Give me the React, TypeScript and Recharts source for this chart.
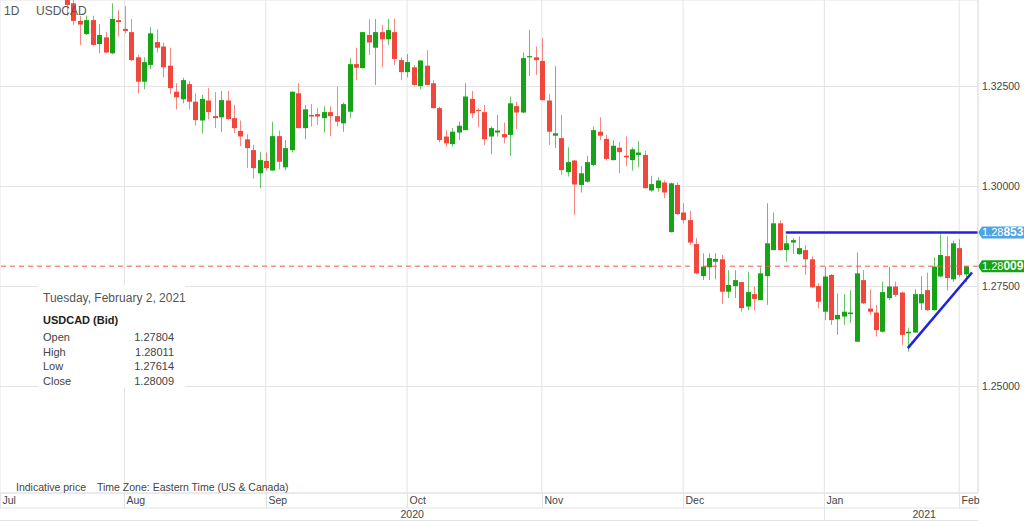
import React from "react";
import {
  ComposedChart,
  Bar,
  XAxis,
  YAxis,
  CartesianGrid,
  ReferenceLine,
} from "recharts";

// daily USDCAD candles, oldest first (last one is Feb 2, 2021)
const opens = [
  1.3472, 1.3458, 1.3414, 1.3381, 1.3416, 1.3356, 1.3373, 1.3333, 1.3416, 1.3394,
  1.3386, 1.3323, 1.3262, 1.3304, 1.3361, 1.335, 1.3302, 1.3237, 1.3218, 1.3256,
  1.3212, 1.3165, 1.3215, 1.3176, 1.3173, 1.3215, 1.3171, 1.3139, 1.3118, 1.3091,
  1.3033, 1.3064, 1.304, 1.3126, 1.3048, 1.3091, 1.3233, 1.3146, 1.3179, 1.3181,
  1.3171, 1.3186, 1.3176, 1.3158, 1.3187, 1.3306, 1.3296, 1.3379, 1.3347, 1.3386,
  1.3368, 1.3386, 1.3316, 1.3286, 1.3298, 1.3251, 1.3302, 1.3258, 1.3196, 1.3125,
  1.3106, 1.3135, 1.3141, 1.3219, 1.3191, 1.3186, 1.3125, 1.3135, 1.3131, 1.3129,
  1.3201, 1.3185, 1.3323, 1.3323, 1.3314, 1.3215, 1.3127, 1.3121, 1.3036, 1.3065,
  1.3004, 1.3012, 1.3054, 1.3137, 1.3119, 1.3066, 1.3097, 1.3077, 1.3066, 1.3079,
  1.3079, 1.299, 1.2996, 1.301, 1.2886, 1.3004, 1.2935, 1.2916, 1.2856, 1.2776,
  1.2798, 1.2812, 1.2818, 1.2737, 1.2751, 1.2761, 1.27, 1.2731, 1.2716, 1.2776,
  1.2841, 1.2908, 1.2841, 1.286, 1.2831, 1.2841, 1.2818, 1.2751, 1.2687, 1.2779,
  1.2668, 1.2675, 1.2681, 1.2612, 1.2766, 1.2695, 1.2685, 1.2637, 1.2721, 1.275,
  1.2735, 1.2633, 1.2635, 1.2708, 1.2741, 1.2691, 1.2775, 1.2826, 1.2768, 1.2846,
  1.27804,
];
const highs = [
  1.348, 1.3468, 1.3426, 1.3427, 1.3427, 1.3406, 1.3386, 1.3458, 1.3441, 1.3451,
  1.3419, 1.3329, 1.3323, 1.3398, 1.3393, 1.336, 1.3347, 1.3258, 1.3272, 1.3264,
  1.3233, 1.3229, 1.3246, 1.3236, 1.3239, 1.3239, 1.3204, 1.3165, 1.3131, 1.3104,
  1.3087, 1.3085, 1.3162, 1.314, 1.3116, 1.3238, 1.3258, 1.3204, 1.3206, 1.3196,
  1.3201, 1.3201, 1.325, 1.321, 1.3321, 1.3347, 1.3387, 1.3418, 1.3419, 1.3404,
  1.3419, 1.3419, 1.3323, 1.3331, 1.3304, 1.3316, 1.3341, 1.3266, 1.32, 1.3141,
  1.3146, 1.3162, 1.3258, 1.3239, 1.3196, 1.3204, 1.3151, 1.3179, 1.316, 1.3225,
  1.3212, 1.3335, 1.3391, 1.335, 1.3371, 1.3231, 1.3301, 1.3179, 1.3098, 1.3066,
  1.3051, 1.3077, 1.315, 1.3173, 1.3129, 1.3116, 1.3111, 1.3125, 1.3098, 1.3114,
  1.3089, 1.3027, 1.3023, 1.3015, 1.301, 1.301, 1.2958, 1.2939, 1.2871, 1.2833,
  1.2833, 1.2833, 1.2829, 1.2791, 1.2791, 1.2762, 1.2787, 1.275, 1.2798, 1.2958,
  1.2935, 1.2915, 1.2879, 1.2871, 1.2875, 1.2854, 1.2825, 1.2758, 1.28, 1.2781,
  1.2733, 1.2731, 1.2741, 1.2835, 1.2791, 1.2743, 1.2704, 1.2762, 1.28, 1.2762,
  1.2737, 1.2646, 1.2743, 1.2776, 1.2785, 1.2823, 1.2881, 1.2875, 1.2865, 1.2868,
  1.28011,
];
const lows = [
  1.3426, 1.3404, 1.3354, 1.3379, 1.3352, 1.3333, 1.3333, 1.3331, 1.3375, 1.3383,
  1.3314, 1.3233, 1.3243, 1.3293, 1.3335, 1.3273, 1.3231, 1.3193, 1.3208, 1.3193,
  1.3152, 1.3133, 1.3168, 1.3146, 1.3136, 1.3166, 1.3133, 1.3101, 1.3046, 1.302,
  1.2996, 1.304, 1.3039, 1.3043, 1.3041, 1.3085, 1.3145, 1.3118, 1.315, 1.3154,
  1.3135, 1.3126, 1.315, 1.3137, 1.3171, 1.3266, 1.3295, 1.3329, 1.3254, 1.3298,
  1.3354, 1.3304, 1.3266, 1.3273, 1.3252, 1.3243, 1.3253, 1.3195, 1.311, 1.31,
  1.31, 1.3116, 1.3141, 1.3171, 1.3148, 1.3104, 1.3081, 1.3125, 1.3108, 1.3076,
  1.3143, 1.3183, 1.3276, 1.3279, 1.3215, 1.3104, 1.3096, 1.3029, 1.3025, 1.2929,
  1.2985, 1.301, 1.3051, 1.3116, 1.3065, 1.3065, 1.3033, 1.3051, 1.304, 1.3048,
  1.2995, 1.2987, 1.2987, 1.2971, 1.2885, 1.2929, 1.2908, 1.2854, 1.2781, 1.2766,
  1.2766, 1.2768, 1.2706, 1.2721, 1.2721, 1.2687, 1.2691, 1.269, 1.2716, 1.2704,
  1.2841, 1.284, 1.2812, 1.2831, 1.2829, 1.2779, 1.2747, 1.2695, 1.2666, 1.2654,
  1.2629, 1.2654, 1.2658, 1.2611, 1.2706, 1.2679, 1.2625, 1.2635, 1.2716, 1.2724,
  1.2604, 1.2587, 1.2634, 1.2691, 1.2689, 1.2689, 1.2773, 1.274, 1.2762, 1.2773,
  1.27614,
];
const closes = [
  1.3454, 1.3414, 1.3405, 1.3416, 1.3354, 1.3379, 1.3335, 1.3419, 1.3411, 1.3389,
  1.3316, 1.3262, 1.3311, 1.3383, 1.3347, 1.3298, 1.3246, 1.3223, 1.3266, 1.3212,
  1.3166, 1.3219, 1.3186, 1.3171, 1.3216, 1.3169, 1.3146, 1.3125, 1.3096, 1.3046,
  1.3066, 1.3046, 1.3126, 1.3062, 1.3096, 1.3237, 1.3146, 1.3193, 1.3175, 1.3175,
  1.3186, 1.3176, 1.3162, 1.3206, 1.3306, 1.3297, 1.3386, 1.336, 1.3386, 1.3368,
  1.3391, 1.3319, 1.3286, 1.3311, 1.3254, 1.3315, 1.3254, 1.3196, 1.3116, 1.3108,
  1.3137, 1.3152, 1.3225, 1.3183, 1.3189, 1.3118, 1.3146, 1.314, 1.3123, 1.3208,
  1.3185, 1.3321, 1.3326, 1.3316, 1.3216, 1.3137, 1.3133, 1.3041, 1.3061, 1.3005,
  1.3033, 1.3061, 1.3141, 1.3127, 1.3069, 1.3102, 1.3086, 1.3073, 1.3093, 1.3085,
  1.2996, 1.3006, 1.3015, 1.2985, 1.3008, 1.2931, 1.2916, 1.286, 1.2783, 1.28,
  1.2821, 1.2819, 1.2737, 1.2754, 1.2766, 1.2696, 1.2736, 1.2719, 1.2783, 1.2858,
  1.2908, 1.2841, 1.2858, 1.2866, 1.2846, 1.2818, 1.2748, 1.2712, 1.2775, 1.2666,
  1.2679, 1.2687, 1.2685, 1.2783, 1.2708, 1.2687, 1.2641, 1.2736, 1.275, 1.2729,
  1.2629, 1.2637, 1.2731, 1.2731, 1.2691, 1.28, 1.2829, 1.2771, 1.2858, 1.2779,
  1.28009,
];

// month starts, as candle indexes (first one is the left edge of the view)
const monthLabels = ["Jul", "Aug", "Sep", "Oct", "Nov", "Dec", "Jan", "Feb"];
const monthTicks = [-10.39, 9, 31, 53, 74, 96, 118, 139];
const yearLabels = ["2020", "2021"];
const priceTicks = [1.25, 1.275, 1.3, 1.325];

const lastPrice = 1.28009;
const resistance = 1.28853;
const resistanceStart = 112;
const trendStart = { x: 131, y: 1.2596 };
const trendEnd = { x: 141, y: 1.2785 };

const W = 1024;
const H = 521;
const AXIS_W = 46;
const X_MIN = -10.39;
const X_MAX = 141.93;
const Y_MIN = 1.22338;
const Y_MAX = 1.34663;

const GREEN = "#16a316";
const RED = "#f0463c";
const GRID = "#e4e4e4";
const TEXT = "#444";
const FONT = "'Liberation Sans', Arial, sans-serif";

const data = opens.map((open, i) => ({
  i,
  open,
  high: highs[i],
  low: lows[i],
  close: closes[i],
  range: [lows[i], highs[i]],
}));

// year label sits in the middle of its span (the last span runs to the page edge)
const janIdx = monthTicks[monthLabels.indexOf("Jan")];
const rightEdge = X_MAX + (AXIS_W * (X_MAX - X_MIN)) / (W - AXIS_W);
const yearTicks = [(X_MIN + janIdx) / 2, (janIdx + rightEdge) / 2];

function Candle(props: any) {
  const { x, y, width, height, payload } = props;
  if (!payload) return null;
  const { open, high, low, close } = payload;
  const top = Math.min(y, y + height);
  const h = Math.abs(height);
  const span = high - low || 1e-9;
  const py = (v: number) => top + ((high - v) / span) * h;
  const color = close >= open ? GREEN : RED;
  const cx = Math.round(x + width / 2) + 0.5;
  const b1 = py(Math.max(open, close));
  const b2 = py(Math.min(open, close));
  return (
    <g>
      <line x1={cx} x2={cx} y1={top} y2={top + h} stroke={color} strokeOpacity={0.65} />
      <rect x={cx - 2.5} y={b1} width={5} height={Math.max(1, b2 - b1)} fill={color} />
    </g>
  );
}

function MonthTick(props: any) {
  const { x, y, payload } = props;
  const label = monthLabels[monthTicks.indexOf(payload.value)];
  const x0 = Math.max(0.5, Math.round(x) + 0.5);
  return (
    <g>
      <line x1={x0} x2={x0} y1={y} y2={label === "Jan" ? y + 28 : y + 15} stroke={GRID} />
      <text x={x0 + 2} y={y + 11} fontSize={10.5} fill={TEXT} fontFamily={FONT}>
        {label}
      </text>
    </g>
  );
}

function YearTick(props: any) {
  const { x, y, payload } = props;
  const label = yearLabels[yearTicks.indexOf(payload.value)];
  return (
    <text x={x} y={y + 10} fontSize={10.5} fill={TEXT} textAnchor="middle" fontFamily={FONT}>
      {label}
    </text>
  );
}

function PriceTick(props: any) {
  const { y, payload } = props;
  return (
    <text x={982} y={y + 3} fontSize={10.5} fill={TEXT} fontFamily={FONT}>
      {payload.value.toFixed(5)}
    </text>
  );
}

function PriceTag({ viewBox, value, color }: any) {
  if (!viewBox) return null;
  const x = viewBox.x + viewBox.width;
  const y = viewBox.y;
  const s = value.toFixed(5);
  const shape = `M${x},${y} L${x + 4},${y - 6} L${W},${y - 6} L${W},${y + 6} L${x + 4},${y + 6} Z`;
  return (
    <g>
      <path d={shape} fill={color} />
      <text x={x + 4} y={y + 4} fill="#fff" fontFamily={FONT}>
        <tspan fontSize={11}>{s.slice(0, 4)}</tspan>
        <tspan fontSize={12} fontWeight="bold">{s.slice(4)}</tspan>
      </text>
    </g>
  );
}

const infoRows = [
  ["Open", "1.27804"],
  ["High", "1.28011"],
  ["Low", "1.27614"],
  ["Close", "1.28009"],
];

export default function App() {
  return (
    <div style={{ position: "absolute", left: 0, top: 0, width: W, height: H, background: "#fff" }}>
      <ComposedChart
        width={W}
        height={H}
        data={data}
        margin={{ top: 0, right: 0, bottom: 0, left: 0 }}
      >
        <CartesianGrid stroke={GRID} />
        <XAxis
          dataKey="i"
          type="number"
          domain={[X_MIN, X_MAX]}
          allowDataOverflow
          ticks={monthTicks}
          interval={0}
          height={15}
          tickSize={0}
          tickMargin={0}
          tickLine={false}
          axisLine={{ stroke: GRID }}
          tick={<MonthTick />}
        />
        <XAxis
          xAxisId="yr"
          dataKey="i"
          type="number"
          domain={[X_MIN, X_MAX]}
          allowDataOverflow
          ticks={yearTicks}
          interval={0}
          height={13}
          tickSize={0}
          tickMargin={0}
          tickLine={false}
          axisLine={{ stroke: GRID }}
          tick={<YearTick />}
        />
        <YAxis
          orientation="right"
          width={AXIS_W}
          domain={[Y_MIN, Y_MAX]}
          allowDataOverflow
          ticks={priceTicks}
          interval={0}
          tickLine={false}
          axisLine={{ stroke: GRID }}
          tick={<PriceTick />}
        />
        <Bar
          dataKey="range"
          barSize={5}
          shape={<Candle />}
          isAnimationActive={false}
        />
        <ReferenceLine
          y={lastPrice}
          stroke="#f2574d"
          strokeDasharray="5 4"
          label={(p: any) => <PriceTag viewBox={p.viewBox} value={lastPrice} color={GREEN} />}
        />
        <ReferenceLine
          segment={[
            { x: resistanceStart, y: resistance },
            { x: X_MAX, y: resistance },
          ]}
          stroke="#1f22e0"
          strokeWidth={2.5}
          label={(p: any) => <PriceTag viewBox={p.viewBox} value={resistance} color="#4ea5e2" />}
        />
        <ReferenceLine
          segment={[trendStart, trendEnd]}
          stroke="#1f22e0"
          strokeWidth={2.5}
        />
      </ComposedChart>
      <svg
        width={W}
        height={H}
        style={{ position: "absolute", left: 0, top: 0, pointerEvents: "none" }}
        fontFamily={FONT}
      >
        <text x={4} y={15} fontSize={12} fill="#555">1D</text>
        <text x={36} y={15} fontSize={12} fill="#555">USDCAD</text>
        <rect x={38} y={285} width={147} height={103} fill="#fff" fillOpacity={0.94} />
        <text x={43} y={302} fontSize={12} fill="#555">Tuesday, February 2, 2021</text>
        <text x={43} y={324} fontSize={11} fontWeight="bold" fill="#222">USDCAD (Bid)</text>
        {infoRows.map(([k, v], r) => (
          <g key={k}>
            <text x={43} y={341 + r * 14.5} fontSize={11} fill={TEXT}>{k}</text>
            <text x={174} y={341 + r * 14.5} fontSize={11} fill={TEXT} textAnchor="end">{v}</text>
          </g>
        ))}
        <text x={16} y={491} fontSize={10.5} fill={TEXT}>Indicative price</text>
        <text x={97} y={491} fontSize={10.5} fill={TEXT}>Time Zone: Eastern Time (US &amp; Canada)</text>
        <line x1={0} x2={W - AXIS_W} y1={520.5} y2={520.5} stroke={GRID} />
      </svg>
    </div>
  );
}
